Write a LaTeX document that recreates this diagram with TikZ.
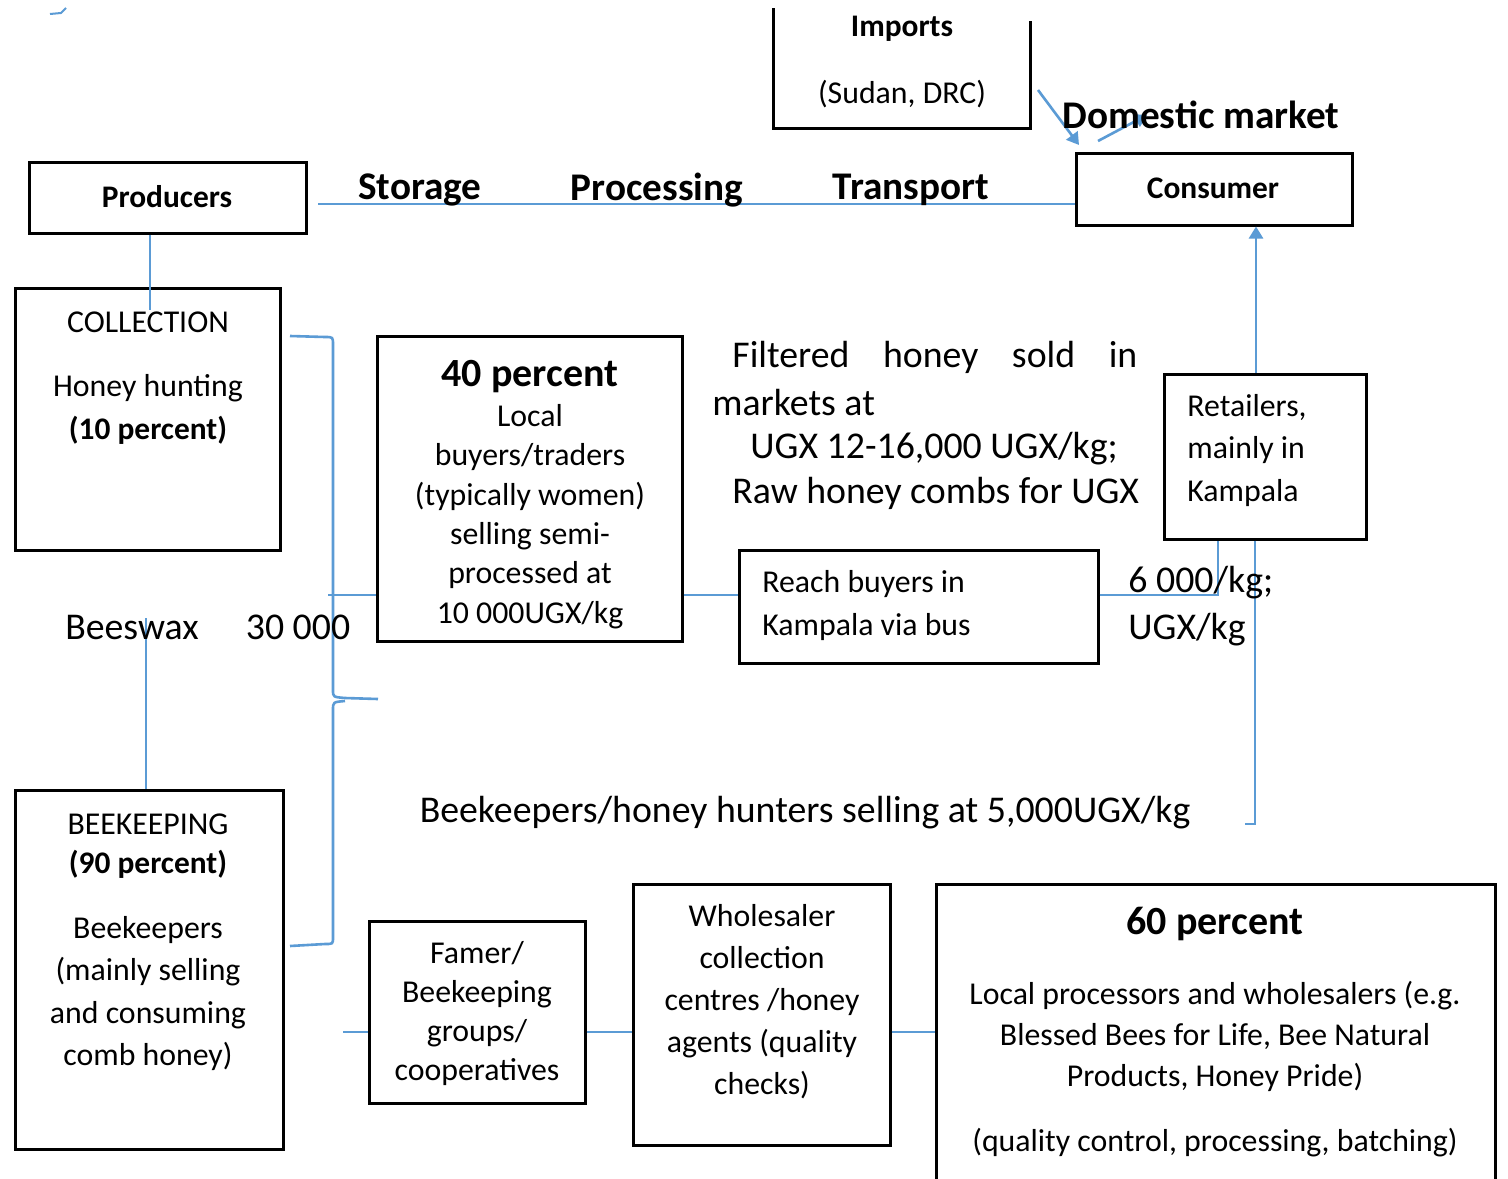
\documentclass[tikz,border=0pt]{standalone}
\usepackage{fontspec}
\setmainfont{Carlito}
\usetikzlibrary{fit,arrows.meta}
\definecolor{lineblue}{RGB}{91,155,213}
\begin{document}
\begin{tikzpicture}[x=0.5pt,y=-0.5pt,
 box/.style={draw=black,line width=1.5pt,inner sep=0pt},
 conn/.style={draw=lineblue,line width=1.3pt},
 arr/.style={conn,-{Triangle[width=7pt,length=6pt]}},
 txt/.style={inner sep=0pt,align=center,yshift=-1pt,font=\fontsize{15.9}{20}\selectfont},
 btxt/.style={inner sep=0pt,align=center,yshift=-1pt,font=\bfseries\fontsize{15.7}{20}\selectfont},
 big/.style={inner sep=0pt,yshift=-1.3pt,font=\fontsize{18.9}{23}\selectfont},
 bigb/.style={inner sep=0pt,yshift=-1.5pt,font=\bfseries\fontsize{19.6}{23}\selectfont},
 huge/.style={inner sep=0pt,yshift=-1.8pt,font=\bfseries\fontsize{20}{24}\selectfont},
]
\path[use as bounding box,fill=white] (0,0) rectangle (1508,1178);

% small mark
\draw[lineblue,line width=1pt] (50,14) -- (61,13) -- (66,8);

% boxes
\node[box,fit={(29,162)(306,233)}] (prod) {};
\node[box,fit={(1076,153)(1352,225)}] (cons) {};
\node[box,fit={(15,288)(280,550)}] (coll) {};
\node[box,fit={(377,336)(682,641)}] (forty) {};
\node[box,fit={(739,550)(1098,663)}] (reach) {};
\node[box,fit={(1164,374)(1366,539)}] (ret) {};
\node[box,fit={(15,790)(283,1149)}] (beek) {};
\node[box,fit={(369,921)(585,1103)}] (famer) {};
\node[box,fit={(633,884)(890,1145)}] (whole) {};
\node[box,fit={(936,884)(1495,1215)}] (sixty) {};
\draw[line width=1.5pt] (773,8) -- (773,128) -- (1030,128) -- (1030,21);

% connectors
\coordinate (c1) at (150,310);
\draw[conn] (prod.south -| c1) -- (c1);
\coordinate (s0) at (318,204);
\draw[conn] (s0) -- (s0 -| cons.west);
\draw[conn] (290,336) -- (325,337) .. controls (333,337) .. (333,345) -- (333,690)
  .. controls (333,697) .. (345,698) -- (378,699);
\draw[conn] (345,701) .. controls (333,702) .. (333,710) -- (333,937)
  .. controls (333,944) .. (325,944) -- (290,946);
\coordinate (bn) at (328,595);
\draw[conn] (bn) -- (bn -| forty.west);
\draw[conn] (forty.east |- bn) -- (reach.west |- bn);
\coordinate (r1) at (1218,595);
\draw[conn] (reach.east |- r1) -- (r1) -- (r1 |- ret.south);
\coordinate (a1) at (1256,0);
\draw[arr] (ret.north -| a1) -- (cons.south -| a1);
\coordinate (v1) at (1255,824);
\coordinate (v2) at (1245,824);
\draw[conn] (ret.south -| v1) -- (v1) -- (v2);
\coordinate (bw) at (146,618);
\draw[conn] (bw) -- (bw |- beek.north);
\coordinate (f0) at (343,1032);
\draw[conn] (f0) -- (famer.west |- f0);
\draw[conn] (famer.east |- f0) -- (whole.west |- f0);
\draw[conn] (whole.east |- f0) -- (sixty.west |- f0);
\coordinate (i1) at (1038,90);
\coordinate (i2) at (1079,145);
\draw[arr] (i1) -- (i2);
\coordinate (i3) at (1098,141);
\coordinate (i4) at (1147,115);
\draw[arr] (i3) -- (i4);

% texts
\node[btxt] (timp) at (902,27) {Imports};
\node[txt] (tsud) at (902,92) {(Sudan, DRC)};
\node[bigb] (tdom) at (1201,112) {Domestic market};
\node[btxt] (tprod) at (167,195) {Producers};
\node[btxt] (tcons) at (1213,186) {Consumer};
\node[bigb] (tsto) at (420,187) {Storage};
\node[bigb] (tpro) at (657,187) {Processing};
\node[bigb] (ttra) at (911,187) {Transport};

\node[txt] (tcoll) at (148,320) {COLLECTION};
\node[txt] (thh) at (148,386) {Honey hunting};
\node[btxt] (t10) at (148,428) {(10 percent)};

\node[huge] (t40) at (530,373) {40 percent};
\node[txt,font=\fontsize{15.9}{19.7}\selectfont] (t40b) at (530,514.5) {Local\\buyers/traders\\(typically women)\\selling semi-\\processed at\\10 000UGX/kg};

\node[big,anchor=west] (tf1) at (732,355) {\hbox to 202.5pt{Filtered\hfill honey\hfill sold\hfill in}};
\node[big,anchor=west] (tf2) at (712,400) {markets at};
\node[big,anchor=west] (tf3) at (750,446) {UGX 12-16,000 UGX/kg;};
\node[big,anchor=west] (tf4) at (732,491) {Raw honey combs for UGX};
\node[big,anchor=west] (tf5) at (1128,580) {6 000/kg;};
\node[big,anchor=west] (tf6) at (1128,627) {UGX/kg};

\node[txt,align=left,anchor=west,font=\fontsize{15.9}{21.5}\selectfont] (treach) at (762,603.5) {Reach buyers in\\Kampala via bus};
\node[txt,align=left,anchor=west,font=\fontsize{15.9}{21.25}\selectfont] (tret) at (1187,448.5) {Retailers,\\mainly in\\Kampala};

\node[big] (tbw) at (132,625) {Beeswax};
\node[big] (t30) at (298,625) {30 000};

\node[txt] (tbk1) at (148,822) {BEEKEEPING};
\node[btxt] (t90) at (148,862) {(90 percent)};
\node[txt,font=\fontsize{15.9}{21.2}\selectfont] (tbk2) at (148,991.5) {Beekeepers\\(mainly selling\\and consuming\\comb honey)};

\node[big] (tsell) at (805,810) {Beekeepers/honey hunters selling at 5,000UGX/kg};

\node[txt,font=\fontsize{15.9}{19.5}\selectfont] (tfam) at (477,1011.5) {Famer/\\Beekeeping\\groups/\\cooperatives};
\node[txt,font=\fontsize{15.9}{21}\selectfont] (twh) at (762,1000) {Wholesaler\\collection\\centres /honey\\agents (quality\\checks)};

\node[huge] (t60) at (1215,920) {60 percent};
\node[txt,font=\fontsize{15.9}{20.5}\selectfont] (t60b) at (1215,1034) {Local processors and wholesalers (e.g.\\Blessed Bees for Life, Bee Natural\\Products, Honey Pride)};
\node[txt] (t60c) at (1215,1141) {(quality control, processing, batching)};
\end{tikzpicture}
\end{document}
